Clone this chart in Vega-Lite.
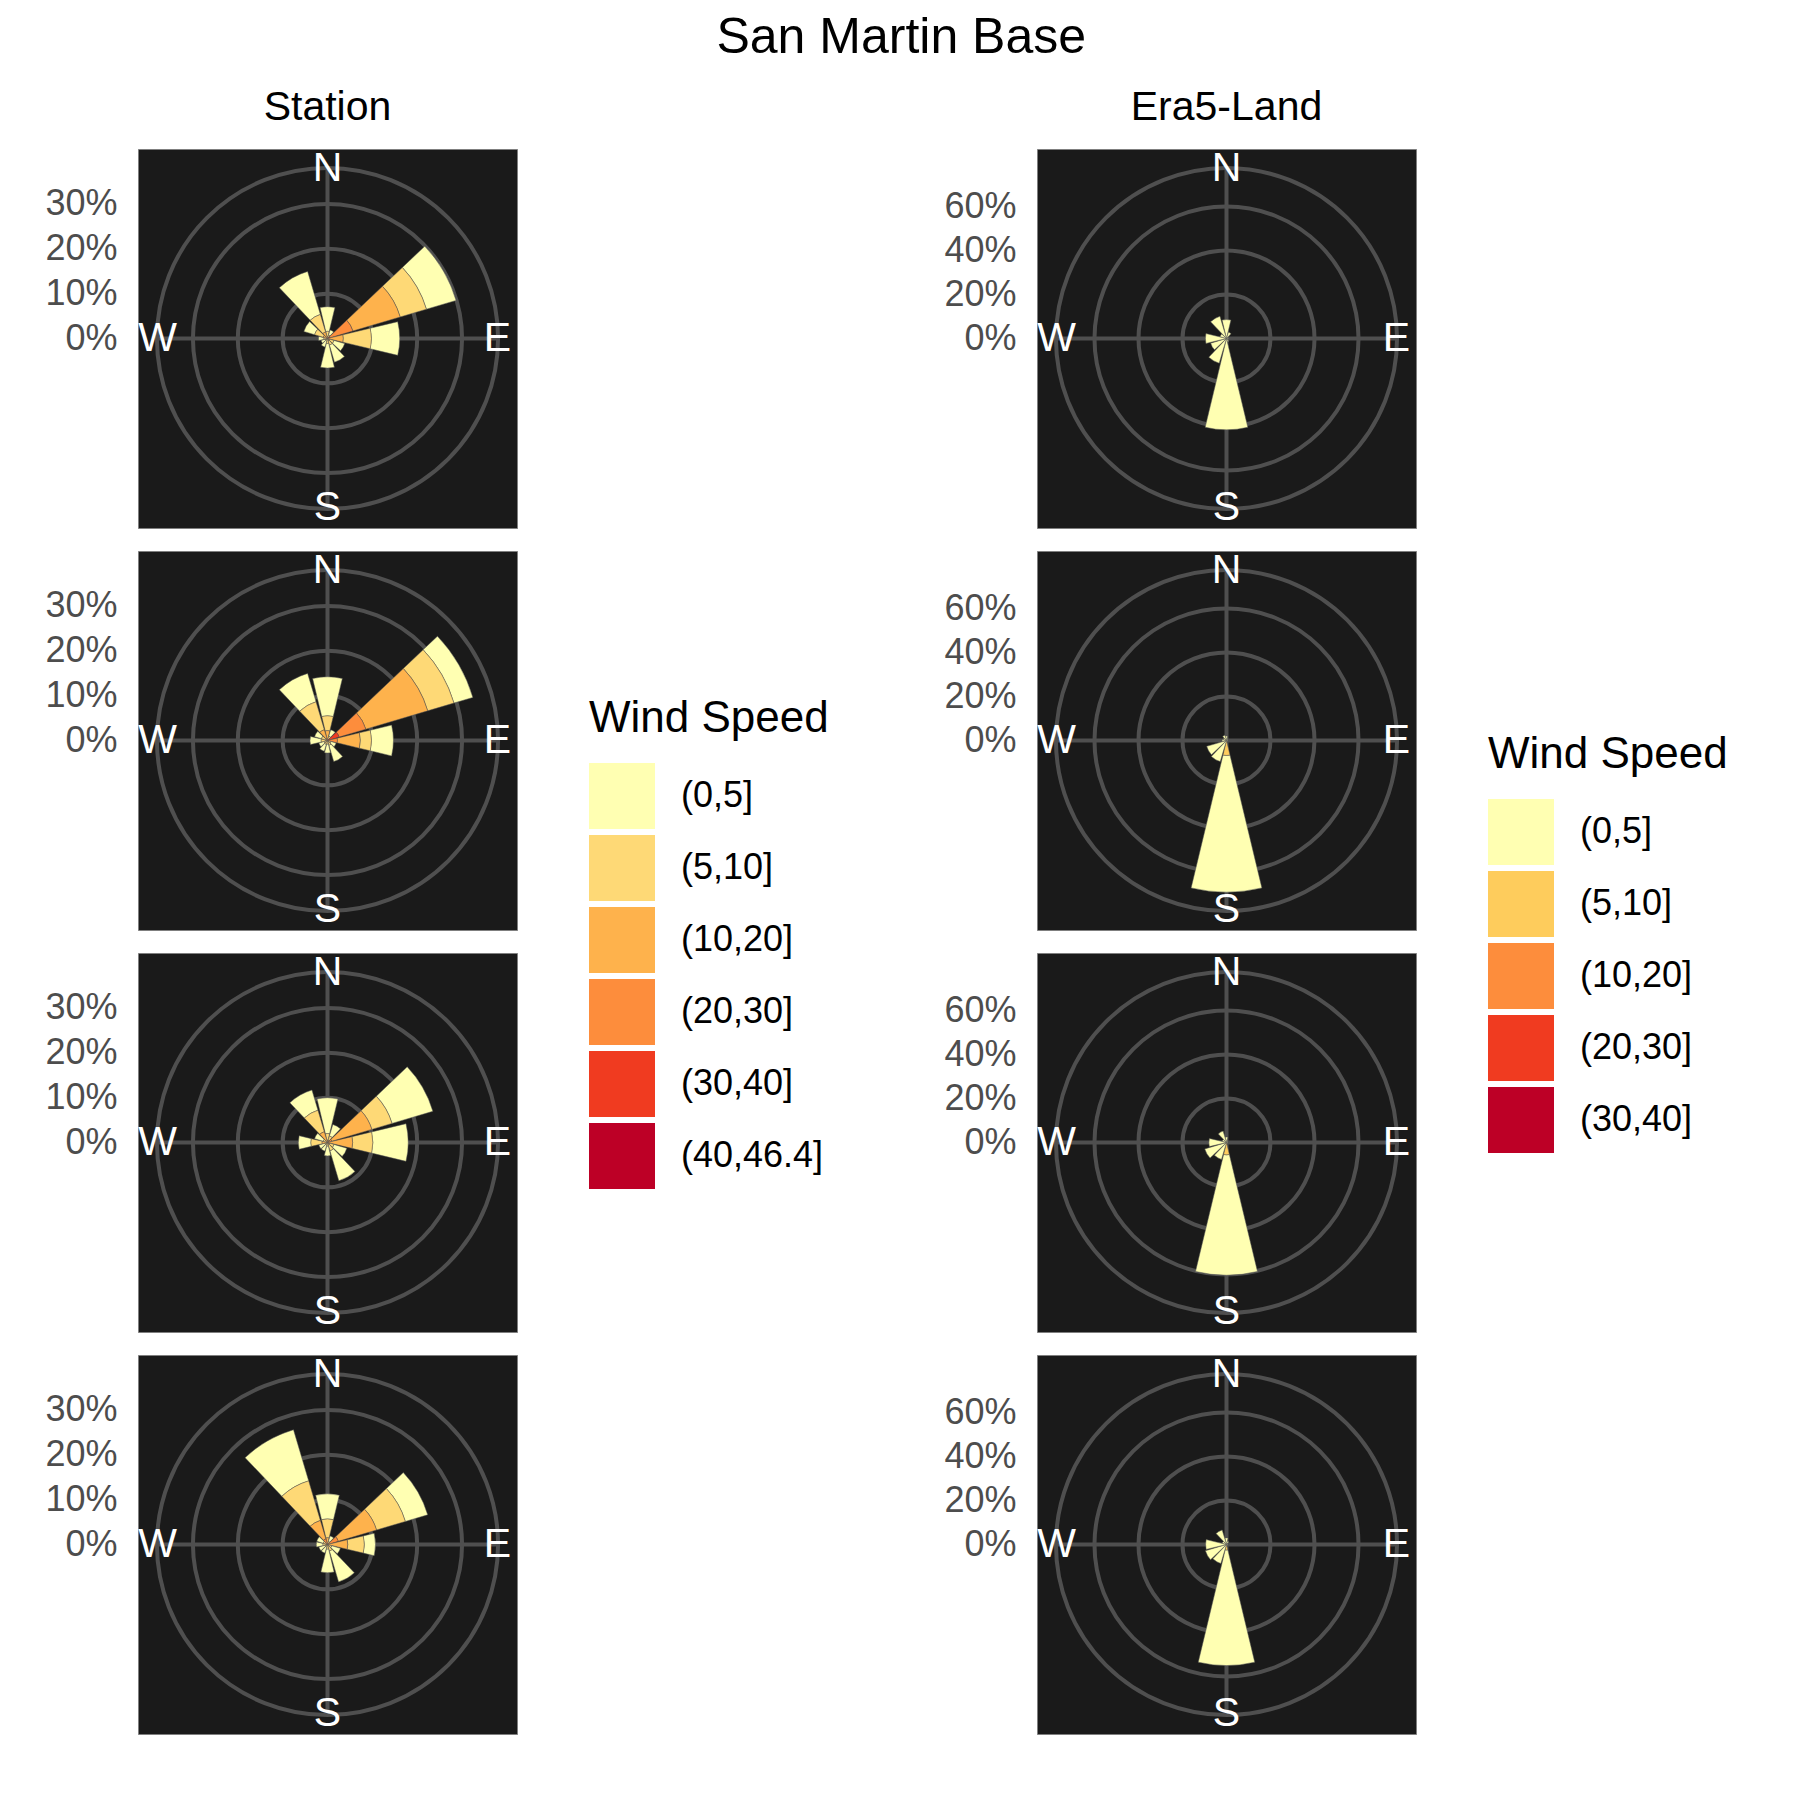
{
"$schema": "https://vega.github.io/schema/vega-lite/v6.json",
"background": "#ffffff",
"padding": {"left": 44, "top": 13, "right": 5, "bottom": 5},
"title": {"text": "San Martin Base", "fontSize": 50, "fontWeight": "normal", "font": "Liberation Sans", "color": "#000000", "anchor": "middle", "baseline": "bottom", "offset": -27, "dx": 15},
"config": {"view": {"fill": "#1a1a1a", "stroke": "#7f7f7f", "strokeWidth": 1}, "font": "Liberation Sans"},
"datasets": {
"ringsS": [{"r": 10}, {"r": 20}, {"r": 30}, {"r": 38.03}],
"ringsE": [{"r": 20}, {"r": 40}, {"r": 60}, {"r": 77.51}],
"compass": [{"lab": "N", "deg": 0}, {"lab": "E", "deg": 90}, {"lab": "S", "deg": 180}, {"lab": "W", "deg": 270}],
"w": [
{"p":"S1","d":0,"b":"(0,5]","v":5.5},{"p":"S1","d":0,"b":"(5,10]","v":1.2},{"p":"S1","d":0,"b":"(10,20]","v":0.4},
{"p":"S1","d":30,"b":"(0,5]","v":1.2},{"p":"S1","d":30,"b":"(5,10]","v":0.5},{"p":"S1","d":30,"b":"(10,20]","v":0.3},
{"p":"S1","d":60,"b":"(0,5]","v":6.9},{"p":"S1","d":60,"b":"(5,10]","v":6.1},{"p":"S1","d":60,"b":"(10,20]","v":11.0},{"p":"S1","d":60,"b":"(20,30]","v":5.3},{"p":"S1","d":60,"b":"(30,40]","v":0.6},
{"p":"S1","d":90,"b":"(0,5]","v":6.3},{"p":"S1","d":90,"b":"(5,10]","v":6.3},{"p":"S1","d":90,"b":"(10,20]","v":3.5},
{"p":"S1","d":120,"b":"(0,5]","v":2.5},{"p":"S1","d":120,"b":"(5,10]","v":1.0},{"p":"S1","d":120,"b":"(10,20]","v":0.5},
{"p":"S1","d":150,"b":"(0,5]","v":4.0},{"p":"S1","d":150,"b":"(5,10]","v":1.0},{"p":"S1","d":150,"b":"(10,20]","v":0.5},
{"p":"S1","d":180,"b":"(0,5]","v":5.5},{"p":"S1","d":180,"b":"(5,10]","v":1.1},
{"p":"S1","d":210,"b":"(0,5]","v":1.4},{"p":"S1","d":210,"b":"(5,10]","v":0.6},
{"p":"S1","d":240,"b":"(0,5]","v":1.0},{"p":"S1","d":240,"b":"(5,10]","v":0.5},
{"p":"S1","d":270,"b":"(0,5]","v":1.2},{"p":"S1","d":270,"b":"(5,10]","v":0.6},{"p":"S1","d":270,"b":"(10,20]","v":0.2},
{"p":"S1","d":300,"b":"(0,5]","v":2.5},{"p":"S1","d":300,"b":"(5,10]","v":2.0},{"p":"S1","d":300,"b":"(10,20]","v":1.0},
{"p":"S1","d":330,"b":"(0,5]","v":10.0},{"p":"S1","d":330,"b":"(5,10]","v":4.1},{"p":"S1","d":330,"b":"(10,20]","v":1.5},

{"p":"S2","d":0,"b":"(0,5]","v":8.7},{"p":"S2","d":0,"b":"(5,10]","v":3.3},{"p":"S2","d":0,"b":"(10,20]","v":2.2},
{"p":"S2","d":30,"b":"(0,5]","v":1.5},{"p":"S2","d":30,"b":"(5,10]","v":0.7},{"p":"S2","d":30,"b":"(10,20]","v":0.3},
{"p":"S2","d":60,"b":"(0,5]","v":4.4},{"p":"S2","d":60,"b":"(5,10]","v":6.1},{"p":"S2","d":60,"b":"(10,20]","v":14.4},{"p":"S2","d":60,"b":"(20,30]","v":6.2},{"p":"S2","d":60,"b":"(30,40]","v":2.7},
{"p":"S2","d":90,"b":"(0,5]","v":4.9},{"p":"S2","d":90,"b":"(5,10]","v":2.5},{"p":"S2","d":90,"b":"(10,20]","v":5.1},{"p":"S2","d":90,"b":"(20,30]","v":2.2},
{"p":"S2","d":120,"b":"(0,5]","v":1.2},{"p":"S2","d":120,"b":"(5,10]","v":0.5},{"p":"S2","d":120,"b":"(10,20]","v":0.3},
{"p":"S2","d":150,"b":"(0,5]","v":3.8},{"p":"S2","d":150,"b":"(5,10]","v":0.8},{"p":"S2","d":150,"b":"(10,20]","v":0.3},
{"p":"S2","d":180,"b":"(0,5]","v":2.0},{"p":"S2","d":180,"b":"(5,10]","v":0.8},
{"p":"S2","d":210,"b":"(0,5]","v":1.6},{"p":"S2","d":210,"b":"(5,10]","v":0.9},
{"p":"S2","d":240,"b":"(0,5]","v":1.2},{"p":"S2","d":240,"b":"(5,10]","v":0.8},
{"p":"S2","d":270,"b":"(0,5]","v":2.5},{"p":"S2","d":270,"b":"(5,10]","v":1.0},{"p":"S2","d":270,"b":"(10,20]","v":0.4},
{"p":"S2","d":300,"b":"(0,5]","v":1.6},{"p":"S2","d":300,"b":"(5,10]","v":1.0},{"p":"S2","d":300,"b":"(10,20]","v":0.4},
{"p":"S2","d":330,"b":"(0,5]","v":6.6},{"p":"S2","d":330,"b":"(5,10]","v":6.5},{"p":"S2","d":330,"b":"(10,20]","v":2.0},{"p":"S2","d":330,"b":"(20,30]","v":0.5},

{"p":"S3","d":0,"b":"(0,5]","v":8.0},{"p":"S3","d":0,"b":"(5,10]","v":1.5},{"p":"S3","d":0,"b":"(10,20]","v":0.5},
{"p":"S3","d":30,"b":"(0,5]","v":2.7},{"p":"S3","d":30,"b":"(5,10]","v":1.0},{"p":"S3","d":30,"b":"(10,20]","v":0.5},
{"p":"S3","d":60,"b":"(0,5]","v":9.5},{"p":"S3","d":60,"b":"(5,10]","v":4.7},{"p":"S3","d":60,"b":"(10,20]","v":9.3},{"p":"S3","d":60,"b":"(20,30]","v":1.0},
{"p":"S3","d":90,"b":"(0,5]","v":7.9},{"p":"S3","d":90,"b":"(5,10]","v":4.5},{"p":"S3","d":90,"b":"(10,20]","v":5.6},
{"p":"S3","d":120,"b":"(0,5]","v":3.0},{"p":"S3","d":120,"b":"(5,10]","v":1.0},{"p":"S3","d":120,"b":"(10,20]","v":0.5},
{"p":"S3","d":150,"b":"(0,5]","v":7.0},{"p":"S3","d":150,"b":"(5,10]","v":1.5},{"p":"S3","d":150,"b":"(10,20]","v":0.4},
{"p":"S3","d":180,"b":"(0,5]","v":2.2},{"p":"S3","d":180,"b":"(5,10]","v":0.8},
{"p":"S3","d":210,"b":"(0,5]","v":1.4},{"p":"S3","d":210,"b":"(5,10]","v":0.6},
{"p":"S3","d":240,"b":"(0,5]","v":1.4},{"p":"S3","d":240,"b":"(5,10]","v":0.6},
{"p":"S3","d":270,"b":"(0,5]","v":2.8},{"p":"S3","d":270,"b":"(5,10]","v":2.5},{"p":"S3","d":270,"b":"(10,20]","v":1.2},
{"p":"S3","d":300,"b":"(0,5]","v":2.0},{"p":"S3","d":300,"b":"(5,10]","v":0.8},{"p":"S3","d":300,"b":"(10,20]","v":0.2},
{"p":"S3","d":330,"b":"(0,5]","v":4.7},{"p":"S3","d":330,"b":"(5,10]","v":5.0},{"p":"S3","d":330,"b":"(10,20]","v":2.5},

{"p":"S4","d":0,"b":"(0,5]","v":5.6},{"p":"S4","d":0,"b":"(5,10]","v":4.2},{"p":"S4","d":0,"b":"(10,20]","v":1.5},
{"p":"S4","d":30,"b":"(0,5]","v":1.3},{"p":"S4","d":30,"b":"(5,10]","v":0.5},{"p":"S4","d":30,"b":"(10,20]","v":0.2},
{"p":"S4","d":60,"b":"(0,5]","v":5.2},{"p":"S4","d":60,"b":"(5,10]","v":6.7},{"p":"S4","d":60,"b":"(10,20]","v":8.9},{"p":"S4","d":60,"b":"(20,30]","v":2.5},
{"p":"S4","d":90,"b":"(0,5]","v":2.5},{"p":"S4","d":90,"b":"(5,10]","v":3.7},{"p":"S4","d":90,"b":"(10,20]","v":4.5},
{"p":"S4","d":120,"b":"(0,5]","v":2.0},{"p":"S4","d":120,"b":"(5,10]","v":0.7},{"p":"S4","d":120,"b":"(10,20]","v":0.3},
{"p":"S4","d":150,"b":"(0,5]","v":7.2},{"p":"S4","d":150,"b":"(5,10]","v":1.2},{"p":"S4","d":150,"b":"(10,20]","v":0.3},
{"p":"S4","d":180,"b":"(0,5]","v":5.3},{"p":"S4","d":180,"b":"(5,10]","v":1.0},
{"p":"S4","d":210,"b":"(0,5]","v":1.4},{"p":"S4","d":210,"b":"(5,10]","v":0.6},
{"p":"S4","d":240,"b":"(0,5]","v":1.4},{"p":"S4","d":240,"b":"(5,10]","v":0.6},
{"p":"S4","d":270,"b":"(0,5]","v":1.5},{"p":"S4","d":270,"b":"(5,10]","v":0.7},{"p":"S4","d":270,"b":"(10,20]","v":0.3},
{"p":"S4","d":300,"b":"(0,5]","v":1.5},{"p":"S4","d":300,"b":"(5,10]","v":0.7},{"p":"S4","d":300,"b":"(10,20]","v":0.3},
{"p":"S4","d":330,"b":"(0,5]","v":11.9},{"p":"S4","d":330,"b":"(5,10]","v":9.2},{"p":"S4","d":330,"b":"(10,20]","v":4.3},{"p":"S4","d":330,"b":"(20,30]","v":1.3},

{"p":"E1","d":0,"b":"(0,5]","v":8.6},{"p":"E1","d":30,"b":"(0,5]","v":3.0},{"p":"E1","d":60,"b":"(0,5]","v":0.8},{"p":"E1","d":90,"b":"(0,5]","v":0.8},
{"p":"E1","d":120,"b":"(0,5]","v":0.8},{"p":"E1","d":150,"b":"(0,5]","v":1.5},{"p":"E1","d":180,"b":"(0,5]","v":41.5},{"p":"E1","d":210,"b":"(0,5]","v":11.7},
{"p":"E1","d":240,"b":"(0,5]","v":7.5},{"p":"E1","d":270,"b":"(0,5]","v":9.6},{"p":"E1","d":300,"b":"(0,5]","v":3.0},{"p":"E1","d":330,"b":"(0,5]","v":10.5},

{"p":"E2","d":0,"b":"(0,5]","v":2.0},{"p":"E2","d":30,"b":"(0,5]","v":1.0},{"p":"E2","d":60,"b":"(0,5]","v":0.5},{"p":"E2","d":90,"b":"(0,5]","v":0.5},
{"p":"E2","d":120,"b":"(0,5]","v":0.5},{"p":"E2","d":150,"b":"(0,5]","v":0.5},{"p":"E2","d":180,"b":"(0,5]","v":62.1},{"p":"E2","d":180,"b":"(5,10]","v":6.8},
{"p":"E2","d":210,"b":"(0,5]","v":10.0},{"p":"E2","d":240,"b":"(0,5]","v":9.4},{"p":"E2","d":270,"b":"(0,5]","v":2.0},{"p":"E2","d":300,"b":"(0,5]","v":1.5},{"p":"E2","d":330,"b":"(0,5]","v":2.5},

{"p":"E3","d":0,"b":"(0,5]","v":2.5},{"p":"E3","d":30,"b":"(0,5]","v":1.0},{"p":"E3","d":60,"b":"(0,5]","v":0.5},{"p":"E3","d":90,"b":"(0,5]","v":0.5},
{"p":"E3","d":120,"b":"(0,5]","v":0.5},{"p":"E3","d":150,"b":"(0,5]","v":0.5},{"p":"E3","d":180,"b":"(0,5]","v":54.7},{"p":"E3","d":180,"b":"(5,10]","v":5.6},
{"p":"E3","d":210,"b":"(0,5]","v":8.0},{"p":"E3","d":240,"b":"(0,5]","v":10.3},{"p":"E3","d":270,"b":"(0,5]","v":8.0},{"p":"E3","d":300,"b":"(0,5]","v":2.0},{"p":"E3","d":330,"b":"(0,5]","v":5.4},

{"p":"E4","d":0,"b":"(0,5]","v":3.0},{"p":"E4","d":30,"b":"(0,5]","v":1.5},{"p":"E4","d":60,"b":"(0,5]","v":0.5},{"p":"E4","d":90,"b":"(0,5]","v":0.5},
{"p":"E4","d":120,"b":"(0,5]","v":0.5},{"p":"E4","d":150,"b":"(0,5]","v":0.5},{"p":"E4","d":180,"b":"(0,5]","v":52.5},{"p":"E4","d":180,"b":"(5,10]","v":2.5},
{"p":"E4","d":210,"b":"(0,5]","v":9.0},{"p":"E4","d":240,"b":"(0,5]","v":10.0},{"p":"E4","d":270,"b":"(0,5]","v":9.5},{"p":"E4","d":300,"b":"(0,5]","v":2.0},{"p":"E4","d":330,"b":"(0,5]","v":6.9}
]
},
"hconcat": [
{
"spacing": 20,
"resolve": {"scale": {"radius": "independent", "theta": "independent", "x": "independent", "y": "independent"}},
"vconcat": [
{"width": 379, "height": 379,
"title": {"text": "Station", "fontSize": 41, "fontWeight": "normal", "font": "Liberation Sans", "color": "#000000", "anchor": "middle", "frame": "group", "baseline": "bottom", "offset": -22},
"layer": [
{"data": {"name": "ringsS"}, "mark": {"type": "arc", "theta": 0, "theta2": 6.283185307179586, "filled": false, "stroke": "#4f4f4f", "strokeWidth": 4},
 "encoding": {"radius": {"field": "r", "type": "quantitative", "scale": {"type": "linear", "domain": [0, 33.8], "range": [0, 151.6], "nice": false, "zero": true}, "stack": null}}},
{"data": {"values": [{}]}, "mark": {"type": "rule", "color": "#4f4f4f", "strokeWidth": 4},
 "encoding": {"x": {"datum": 0, "type": "quantitative", "scale": {"domain": [-42.25, 42.25], "nice": false, "zero": false}, "axis": null},
  "y": {"datum": -38.03, "type": "quantitative", "scale": {"domain": [-42.25, 42.25], "nice": false, "zero": false}, "axis": {"values": [0, 10, 20, 30], "labelExpr": "datum.value + '%'", "grid": false, "domain": false, "ticks": false, "labelPadding": 21, "labelFontSize": 36, "labelFont": "Liberation Sans", "labelColor": "#4d4d4d", "title": null, "labelOverlap": false, "labelFlush": false}},
  "y2": {"datum": 38.03}}},
{"data": {"values": [{}]}, "mark": {"type": "rule", "color": "#4f4f4f", "strokeWidth": 4},
 "encoding": {"x": {"datum": -38.03, "type": "quantitative", "scale": {"domain": [-42.25, 42.25], "nice": false, "zero": false}, "axis": null}, "x2": {"datum": 38.03},
  "y": {"datum": 0, "type": "quantitative", "scale": {"domain": [-42.25, 42.25], "nice": false, "zero": false}, "axis": {"values": [0, 10, 20, 30], "labelExpr": "datum.value + '%'", "grid": false, "domain": false, "ticks": false, "labelPadding": 21, "labelFontSize": 36, "labelFont": "Liberation Sans", "labelColor": "#4d4d4d", "title": null, "labelOverlap": false, "labelFlush": false}}}},
{"data": {"name": "w"},
 "transform": [{"filter": "datum.p == 'S1'"}, {"calculate": "indexof(['(40,46.4]','(30,40]','(20,30]','(10,20]','(5,10]','(0,5]'], datum.b)", "as": "o"}, {"stack": "v", "groupby": ["d"], "sort": [{"field": "o", "order": "ascending"}], "as": ["r0", "r1"]}, {"calculate": "datum.d - 13.5", "as": "t0"}, {"calculate": "datum.d + 13.5", "as": "t1"}],
 "mark": {"type": "arc", "stroke": "#555555", "strokeWidth": 0.5},
 "encoding": {"theta": {"field": "t0", "type": "quantitative", "scale": {"type": "linear", "domain": [0, 360], "range": [0, 6.283185307179586], "nice": false, "zero": false}, "stack": null}, "theta2": {"field": "t1"},
  "radius": {"field": "r1", "type": "quantitative", "scale": {"type": "linear", "domain": [0, 33.8], "range": [0, 151.6], "nice": false, "zero": true}, "stack": null}, "radius2": {"field": "r0"},
  "color": {"field": "b", "type": "nominal", "scale": {"domain": ["(0,5]", "(5,10]", "(10,20]", "(20,30]", "(30,40]", "(40,46.4]"], "range": ["#ffffb2", "#fed976", "#feb24c", "#fd8d3c", "#f03b20", "#bd0026"]},
   "legend": {"orient": "none", "legendX": 451, "legendY": 548, "title": "Wind Speed", "titleFontSize": 44, "titleFontWeight": "normal", "titleFont": "Liberation Sans", "titleColor": "#000000", "titleLimit": 600, "labelFontSize": 36, "labelFont": "Liberation Sans", "labelColor": "#000000", "symbolType": "square", "symbolSize": 4356, "symbolStrokeWidth": 0, "symbolOpacity": 1, "rowPadding": 6, "labelOffset": 26, "titlePadding": 22, "labelLimit": 400, "padding": 0}}}},
{"data": {"name": "compass"}, "mark": {"type": "text", "color": "#ffffff", "fontSize": 41, "font": "Liberation Sans", "align": "center", "baseline": "middle"},
 "encoding": {"theta": {"field": "deg", "type": "quantitative", "scale": {"type": "linear", "domain": [0, 360], "range": [0, 6.283185307179586], "nice": false, "zero": false}, "stack": null},
  "radius": {"datum": 37.9, "type": "quantitative", "scale": {"type": "linear", "domain": [0, 33.8], "range": [0, 151.6], "nice": false, "zero": true}}, "text": {"field": "lab", "type": "nominal"}}}
]},
{"width": 379, "height": 379,
"layer": [
{"data": {"name": "ringsS"}, "mark": {"type": "arc", "theta": 0, "theta2": 6.283185307179586, "filled": false, "stroke": "#4f4f4f", "strokeWidth": 4},
 "encoding": {"radius": {"field": "r", "type": "quantitative", "scale": {"type": "linear", "domain": [0, 33.8], "range": [0, 151.6], "nice": false, "zero": true}, "stack": null}}},
{"data": {"values": [{}]}, "mark": {"type": "rule", "color": "#4f4f4f", "strokeWidth": 4},
 "encoding": {"x": {"datum": 0, "type": "quantitative", "scale": {"domain": [-42.25, 42.25], "nice": false, "zero": false}, "axis": null},
  "y": {"datum": -38.03, "type": "quantitative", "scale": {"domain": [-42.25, 42.25], "nice": false, "zero": false}, "axis": {"values": [0, 10, 20, 30], "labelExpr": "datum.value + '%'", "grid": false, "domain": false, "ticks": false, "labelPadding": 21, "labelFontSize": 36, "labelFont": "Liberation Sans", "labelColor": "#4d4d4d", "title": null, "labelOverlap": false, "labelFlush": false}},
  "y2": {"datum": 38.03}}},
{"data": {"values": [{}]}, "mark": {"type": "rule", "color": "#4f4f4f", "strokeWidth": 4},
 "encoding": {"x": {"datum": -38.03, "type": "quantitative", "scale": {"domain": [-42.25, 42.25], "nice": false, "zero": false}, "axis": null}, "x2": {"datum": 38.03},
  "y": {"datum": 0, "type": "quantitative", "scale": {"domain": [-42.25, 42.25], "nice": false, "zero": false}, "axis": {"values": [0, 10, 20, 30], "labelExpr": "datum.value + '%'", "grid": false, "domain": false, "ticks": false, "labelPadding": 21, "labelFontSize": 36, "labelFont": "Liberation Sans", "labelColor": "#4d4d4d", "title": null, "labelOverlap": false, "labelFlush": false}}}},
{"data": {"name": "w"},
 "transform": [{"filter": "datum.p == 'S2'"}, {"calculate": "indexof(['(40,46.4]','(30,40]','(20,30]','(10,20]','(5,10]','(0,5]'], datum.b)", "as": "o"}, {"stack": "v", "groupby": ["d"], "sort": [{"field": "o", "order": "ascending"}], "as": ["r0", "r1"]}, {"calculate": "datum.d - 13.5", "as": "t0"}, {"calculate": "datum.d + 13.5", "as": "t1"}],
 "mark": {"type": "arc", "stroke": "#555555", "strokeWidth": 0.5},
 "encoding": {"theta": {"field": "t0", "type": "quantitative", "scale": {"type": "linear", "domain": [0, 360], "range": [0, 6.283185307179586], "nice": false, "zero": false}, "stack": null}, "theta2": {"field": "t1"},
  "radius": {"field": "r1", "type": "quantitative", "scale": {"type": "linear", "domain": [0, 33.8], "range": [0, 151.6], "nice": false, "zero": true}, "stack": null}, "radius2": {"field": "r0"},
  "color": {"field": "b", "type": "nominal", "scale": {"domain": ["(0,5]", "(5,10]", "(10,20]", "(20,30]", "(30,40]", "(40,46.4]"], "range": ["#ffffb2", "#fed976", "#feb24c", "#fd8d3c", "#f03b20", "#bd0026"]},
   "legend": {"orient": "none", "legendX": 451, "legendY": 548, "title": "Wind Speed", "titleFontSize": 44, "titleFontWeight": "normal", "titleFont": "Liberation Sans", "titleColor": "#000000", "titleLimit": 600, "labelFontSize": 36, "labelFont": "Liberation Sans", "labelColor": "#000000", "symbolType": "square", "symbolSize": 4356, "symbolStrokeWidth": 0, "symbolOpacity": 1, "rowPadding": 6, "labelOffset": 26, "titlePadding": 22, "labelLimit": 400, "padding": 0}}}},
{"data": {"name": "compass"}, "mark": {"type": "text", "color": "#ffffff", "fontSize": 41, "font": "Liberation Sans", "align": "center", "baseline": "middle"},
 "encoding": {"theta": {"field": "deg", "type": "quantitative", "scale": {"type": "linear", "domain": [0, 360], "range": [0, 6.283185307179586], "nice": false, "zero": false}, "stack": null},
  "radius": {"datum": 37.9, "type": "quantitative", "scale": {"type": "linear", "domain": [0, 33.8], "range": [0, 151.6], "nice": false, "zero": true}}, "text": {"field": "lab", "type": "nominal"}}}
]},
{"width": 379, "height": 379,
"layer": [
{"data": {"name": "ringsS"}, "mark": {"type": "arc", "theta": 0, "theta2": 6.283185307179586, "filled": false, "stroke": "#4f4f4f", "strokeWidth": 4},
 "encoding": {"radius": {"field": "r", "type": "quantitative", "scale": {"type": "linear", "domain": [0, 33.8], "range": [0, 151.6], "nice": false, "zero": true}, "stack": null}}},
{"data": {"values": [{}]}, "mark": {"type": "rule", "color": "#4f4f4f", "strokeWidth": 4},
 "encoding": {"x": {"datum": 0, "type": "quantitative", "scale": {"domain": [-42.25, 42.25], "nice": false, "zero": false}, "axis": null},
  "y": {"datum": -38.03, "type": "quantitative", "scale": {"domain": [-42.25, 42.25], "nice": false, "zero": false}, "axis": {"values": [0, 10, 20, 30], "labelExpr": "datum.value + '%'", "grid": false, "domain": false, "ticks": false, "labelPadding": 21, "labelFontSize": 36, "labelFont": "Liberation Sans", "labelColor": "#4d4d4d", "title": null, "labelOverlap": false, "labelFlush": false}},
  "y2": {"datum": 38.03}}},
{"data": {"values": [{}]}, "mark": {"type": "rule", "color": "#4f4f4f", "strokeWidth": 4},
 "encoding": {"x": {"datum": -38.03, "type": "quantitative", "scale": {"domain": [-42.25, 42.25], "nice": false, "zero": false}, "axis": null}, "x2": {"datum": 38.03},
  "y": {"datum": 0, "type": "quantitative", "scale": {"domain": [-42.25, 42.25], "nice": false, "zero": false}, "axis": {"values": [0, 10, 20, 30], "labelExpr": "datum.value + '%'", "grid": false, "domain": false, "ticks": false, "labelPadding": 21, "labelFontSize": 36, "labelFont": "Liberation Sans", "labelColor": "#4d4d4d", "title": null, "labelOverlap": false, "labelFlush": false}}}},
{"data": {"name": "w"},
 "transform": [{"filter": "datum.p == 'S3'"}, {"calculate": "indexof(['(40,46.4]','(30,40]','(20,30]','(10,20]','(5,10]','(0,5]'], datum.b)", "as": "o"}, {"stack": "v", "groupby": ["d"], "sort": [{"field": "o", "order": "ascending"}], "as": ["r0", "r1"]}, {"calculate": "datum.d - 13.5", "as": "t0"}, {"calculate": "datum.d + 13.5", "as": "t1"}],
 "mark": {"type": "arc", "stroke": "#555555", "strokeWidth": 0.5},
 "encoding": {"theta": {"field": "t0", "type": "quantitative", "scale": {"type": "linear", "domain": [0, 360], "range": [0, 6.283185307179586], "nice": false, "zero": false}, "stack": null}, "theta2": {"field": "t1"},
  "radius": {"field": "r1", "type": "quantitative", "scale": {"type": "linear", "domain": [0, 33.8], "range": [0, 151.6], "nice": false, "zero": true}, "stack": null}, "radius2": {"field": "r0"},
  "color": {"field": "b", "type": "nominal", "scale": {"domain": ["(0,5]", "(5,10]", "(10,20]", "(20,30]", "(30,40]", "(40,46.4]"], "range": ["#ffffb2", "#fed976", "#feb24c", "#fd8d3c", "#f03b20", "#bd0026"]},
   "legend": {"orient": "none", "legendX": 451, "legendY": 548, "title": "Wind Speed", "titleFontSize": 44, "titleFontWeight": "normal", "titleFont": "Liberation Sans", "titleColor": "#000000", "titleLimit": 600, "labelFontSize": 36, "labelFont": "Liberation Sans", "labelColor": "#000000", "symbolType": "square", "symbolSize": 4356, "symbolStrokeWidth": 0, "symbolOpacity": 1, "rowPadding": 6, "labelOffset": 26, "titlePadding": 22, "labelLimit": 400, "padding": 0}}}},
{"data": {"name": "compass"}, "mark": {"type": "text", "color": "#ffffff", "fontSize": 41, "font": "Liberation Sans", "align": "center", "baseline": "middle"},
 "encoding": {"theta": {"field": "deg", "type": "quantitative", "scale": {"type": "linear", "domain": [0, 360], "range": [0, 6.283185307179586], "nice": false, "zero": false}, "stack": null},
  "radius": {"datum": 37.9, "type": "quantitative", "scale": {"type": "linear", "domain": [0, 33.8], "range": [0, 151.6], "nice": false, "zero": true}}, "text": {"field": "lab", "type": "nominal"}}}
]},
{"width": 379, "height": 379,
"layer": [
{"data": {"name": "ringsS"}, "mark": {"type": "arc", "theta": 0, "theta2": 6.283185307179586, "filled": false, "stroke": "#4f4f4f", "strokeWidth": 4},
 "encoding": {"radius": {"field": "r", "type": "quantitative", "scale": {"type": "linear", "domain": [0, 33.8], "range": [0, 151.6], "nice": false, "zero": true}, "stack": null}}},
{"data": {"values": [{}]}, "mark": {"type": "rule", "color": "#4f4f4f", "strokeWidth": 4},
 "encoding": {"x": {"datum": 0, "type": "quantitative", "scale": {"domain": [-42.25, 42.25], "nice": false, "zero": false}, "axis": null},
  "y": {"datum": -38.03, "type": "quantitative", "scale": {"domain": [-42.25, 42.25], "nice": false, "zero": false}, "axis": {"values": [0, 10, 20, 30], "labelExpr": "datum.value + '%'", "grid": false, "domain": false, "ticks": false, "labelPadding": 21, "labelFontSize": 36, "labelFont": "Liberation Sans", "labelColor": "#4d4d4d", "title": null, "labelOverlap": false, "labelFlush": false}},
  "y2": {"datum": 38.03}}},
{"data": {"values": [{}]}, "mark": {"type": "rule", "color": "#4f4f4f", "strokeWidth": 4},
 "encoding": {"x": {"datum": -38.03, "type": "quantitative", "scale": {"domain": [-42.25, 42.25], "nice": false, "zero": false}, "axis": null}, "x2": {"datum": 38.03},
  "y": {"datum": 0, "type": "quantitative", "scale": {"domain": [-42.25, 42.25], "nice": false, "zero": false}, "axis": {"values": [0, 10, 20, 30], "labelExpr": "datum.value + '%'", "grid": false, "domain": false, "ticks": false, "labelPadding": 21, "labelFontSize": 36, "labelFont": "Liberation Sans", "labelColor": "#4d4d4d", "title": null, "labelOverlap": false, "labelFlush": false}}}},
{"data": {"name": "w"},
 "transform": [{"filter": "datum.p == 'S4'"}, {"calculate": "indexof(['(40,46.4]','(30,40]','(20,30]','(10,20]','(5,10]','(0,5]'], datum.b)", "as": "o"}, {"stack": "v", "groupby": ["d"], "sort": [{"field": "o", "order": "ascending"}], "as": ["r0", "r1"]}, {"calculate": "datum.d - 13.5", "as": "t0"}, {"calculate": "datum.d + 13.5", "as": "t1"}],
 "mark": {"type": "arc", "stroke": "#555555", "strokeWidth": 0.5},
 "encoding": {"theta": {"field": "t0", "type": "quantitative", "scale": {"type": "linear", "domain": [0, 360], "range": [0, 6.283185307179586], "nice": false, "zero": false}, "stack": null}, "theta2": {"field": "t1"},
  "radius": {"field": "r1", "type": "quantitative", "scale": {"type": "linear", "domain": [0, 33.8], "range": [0, 151.6], "nice": false, "zero": true}, "stack": null}, "radius2": {"field": "r0"},
  "color": {"field": "b", "type": "nominal", "scale": {"domain": ["(0,5]", "(5,10]", "(10,20]", "(20,30]", "(30,40]", "(40,46.4]"], "range": ["#ffffb2", "#fed976", "#feb24c", "#fd8d3c", "#f03b20", "#bd0026"]},
   "legend": {"orient": "none", "legendX": 451, "legendY": 548, "title": "Wind Speed", "titleFontSize": 44, "titleFontWeight": "normal", "titleFont": "Liberation Sans", "titleColor": "#000000", "titleLimit": 600, "labelFontSize": 36, "labelFont": "Liberation Sans", "labelColor": "#000000", "symbolType": "square", "symbolSize": 4356, "symbolStrokeWidth": 0, "symbolOpacity": 1, "rowPadding": 6, "labelOffset": 26, "titlePadding": 22, "labelLimit": 400, "padding": 0}}}},
{"data": {"name": "compass"}, "mark": {"type": "text", "color": "#ffffff", "fontSize": 41, "font": "Liberation Sans", "align": "center", "baseline": "middle"},
 "encoding": {"theta": {"field": "deg", "type": "quantitative", "scale": {"type": "linear", "domain": [0, 360], "range": [0, 6.283185307179586], "nice": false, "zero": false}, "stack": null},
  "radius": {"datum": 37.9, "type": "quantitative", "scale": {"type": "linear", "domain": [0, 33.8], "range": [0, 151.6], "nice": false, "zero": true}}, "text": {"field": "lab", "type": "nominal"}}}
]}
]
},
{
"spacing": 20,
"resolve": {"scale": {"radius": "independent", "theta": "independent", "x": "independent", "y": "independent"}},
"vconcat": [
{"width": 379, "height": 379,
"title": {"text": "Era5-Land", "fontSize": 41, "fontWeight": "normal", "font": "Liberation Sans", "color": "#000000", "anchor": "middle", "frame": "group", "baseline": "bottom", "offset": -22},
"layer": [
{"data": {"name": "ringsE"}, "mark": {"type": "arc", "theta": 0, "theta2": 6.283185307179586, "filled": false, "stroke": "#4f4f4f", "strokeWidth": 4},
 "encoding": {"radius": {"field": "r", "type": "quantitative", "scale": {"type": "linear", "domain": [0, 68.9], "range": [0, 151.6], "nice": false, "zero": true}, "stack": null}}},
{"data": {"values": [{}]}, "mark": {"type": "rule", "color": "#4f4f4f", "strokeWidth": 4},
 "encoding": {"x": {"datum": 0, "type": "quantitative", "scale": {"domain": [-86.13, 86.13], "nice": false, "zero": false}, "axis": null},
  "y": {"datum": -77.51, "type": "quantitative", "scale": {"domain": [-86.13, 86.13], "nice": false, "zero": false}, "axis": {"values": [0, 20, 40, 60], "labelExpr": "datum.value + '%'", "grid": false, "domain": false, "ticks": false, "labelPadding": 21, "labelFontSize": 36, "labelFont": "Liberation Sans", "labelColor": "#4d4d4d", "title": null, "labelOverlap": false, "labelFlush": false}},
  "y2": {"datum": 77.51}}},
{"data": {"values": [{}]}, "mark": {"type": "rule", "color": "#4f4f4f", "strokeWidth": 4},
 "encoding": {"x": {"datum": -77.51, "type": "quantitative", "scale": {"domain": [-86.13, 86.13], "nice": false, "zero": false}, "axis": null}, "x2": {"datum": 77.51},
  "y": {"datum": 0, "type": "quantitative", "scale": {"domain": [-86.13, 86.13], "nice": false, "zero": false}, "axis": {"values": [0, 20, 40, 60], "labelExpr": "datum.value + '%'", "grid": false, "domain": false, "ticks": false, "labelPadding": 21, "labelFontSize": 36, "labelFont": "Liberation Sans", "labelColor": "#4d4d4d", "title": null, "labelOverlap": false, "labelFlush": false}}}},
{"data": {"name": "w"},
 "transform": [{"filter": "datum.p == 'E1'"}, {"calculate": "indexof(['(40,46.4]','(30,40]','(20,30]','(10,20]','(5,10]','(0,5]'], datum.b)", "as": "o"}, {"stack": "v", "groupby": ["d"], "sort": [{"field": "o", "order": "ascending"}], "as": ["r0", "r1"]}, {"calculate": "datum.d - 13.5", "as": "t0"}, {"calculate": "datum.d + 13.5", "as": "t1"}],
 "mark": {"type": "arc", "stroke": "#555555", "strokeWidth": 0.5},
 "encoding": {"theta": {"field": "t0", "type": "quantitative", "scale": {"type": "linear", "domain": [0, 360], "range": [0, 6.283185307179586], "nice": false, "zero": false}, "stack": null}, "theta2": {"field": "t1"},
  "radius": {"field": "r1", "type": "quantitative", "scale": {"type": "linear", "domain": [0, 68.9], "range": [0, 151.6], "nice": false, "zero": true}, "stack": null}, "radius2": {"field": "r0"},
  "color": {"field": "b", "type": "nominal", "scale": {"domain": ["(0,5]", "(5,10]", "(10,20]", "(20,30]", "(30,40]"], "range": ["#ffffb2", "#fecc5c", "#fd8d3c", "#f03b20", "#bd0026"]},
   "legend": {"orient": "none", "legendX": 451, "legendY": 584, "title": "Wind Speed", "titleFontSize": 44, "titleFontWeight": "normal", "titleFont": "Liberation Sans", "titleColor": "#000000", "titleLimit": 600, "labelFontSize": 36, "labelFont": "Liberation Sans", "labelColor": "#000000", "symbolType": "square", "symbolSize": 4356, "symbolStrokeWidth": 0, "symbolOpacity": 1, "rowPadding": 6, "labelOffset": 26, "titlePadding": 22, "labelLimit": 400, "padding": 0}}}},
{"data": {"name": "compass"}, "mark": {"type": "text", "color": "#ffffff", "fontSize": 41, "font": "Liberation Sans", "align": "center", "baseline": "middle"},
 "encoding": {"theta": {"field": "deg", "type": "quantitative", "scale": {"type": "linear", "domain": [0, 360], "range": [0, 6.283185307179586], "nice": false, "zero": false}, "stack": null},
  "radius": {"datum": 77.26, "type": "quantitative", "scale": {"type": "linear", "domain": [0, 68.9], "range": [0, 151.6], "nice": false, "zero": true}}, "text": {"field": "lab", "type": "nominal"}}}
]},
{"width": 379, "height": 379,
"layer": [
{"data": {"name": "ringsE"}, "mark": {"type": "arc", "theta": 0, "theta2": 6.283185307179586, "filled": false, "stroke": "#4f4f4f", "strokeWidth": 4},
 "encoding": {"radius": {"field": "r", "type": "quantitative", "scale": {"type": "linear", "domain": [0, 68.9], "range": [0, 151.6], "nice": false, "zero": true}, "stack": null}}},
{"data": {"values": [{}]}, "mark": {"type": "rule", "color": "#4f4f4f", "strokeWidth": 4},
 "encoding": {"x": {"datum": 0, "type": "quantitative", "scale": {"domain": [-86.13, 86.13], "nice": false, "zero": false}, "axis": null},
  "y": {"datum": -77.51, "type": "quantitative", "scale": {"domain": [-86.13, 86.13], "nice": false, "zero": false}, "axis": {"values": [0, 20, 40, 60], "labelExpr": "datum.value + '%'", "grid": false, "domain": false, "ticks": false, "labelPadding": 21, "labelFontSize": 36, "labelFont": "Liberation Sans", "labelColor": "#4d4d4d", "title": null, "labelOverlap": false, "labelFlush": false}},
  "y2": {"datum": 77.51}}},
{"data": {"values": [{}]}, "mark": {"type": "rule", "color": "#4f4f4f", "strokeWidth": 4},
 "encoding": {"x": {"datum": -77.51, "type": "quantitative", "scale": {"domain": [-86.13, 86.13], "nice": false, "zero": false}, "axis": null}, "x2": {"datum": 77.51},
  "y": {"datum": 0, "type": "quantitative", "scale": {"domain": [-86.13, 86.13], "nice": false, "zero": false}, "axis": {"values": [0, 20, 40, 60], "labelExpr": "datum.value + '%'", "grid": false, "domain": false, "ticks": false, "labelPadding": 21, "labelFontSize": 36, "labelFont": "Liberation Sans", "labelColor": "#4d4d4d", "title": null, "labelOverlap": false, "labelFlush": false}}}},
{"data": {"name": "w"},
 "transform": [{"filter": "datum.p == 'E2'"}, {"calculate": "indexof(['(40,46.4]','(30,40]','(20,30]','(10,20]','(5,10]','(0,5]'], datum.b)", "as": "o"}, {"stack": "v", "groupby": ["d"], "sort": [{"field": "o", "order": "ascending"}], "as": ["r0", "r1"]}, {"calculate": "datum.d - 13.5", "as": "t0"}, {"calculate": "datum.d + 13.5", "as": "t1"}],
 "mark": {"type": "arc", "stroke": "#555555", "strokeWidth": 0.5},
 "encoding": {"theta": {"field": "t0", "type": "quantitative", "scale": {"type": "linear", "domain": [0, 360], "range": [0, 6.283185307179586], "nice": false, "zero": false}, "stack": null}, "theta2": {"field": "t1"},
  "radius": {"field": "r1", "type": "quantitative", "scale": {"type": "linear", "domain": [0, 68.9], "range": [0, 151.6], "nice": false, "zero": true}, "stack": null}, "radius2": {"field": "r0"},
  "color": {"field": "b", "type": "nominal", "scale": {"domain": ["(0,5]", "(5,10]", "(10,20]", "(20,30]", "(30,40]"], "range": ["#ffffb2", "#fecc5c", "#fd8d3c", "#f03b20", "#bd0026"]},
   "legend": {"orient": "none", "legendX": 451, "legendY": 584, "title": "Wind Speed", "titleFontSize": 44, "titleFontWeight": "normal", "titleFont": "Liberation Sans", "titleColor": "#000000", "titleLimit": 600, "labelFontSize": 36, "labelFont": "Liberation Sans", "labelColor": "#000000", "symbolType": "square", "symbolSize": 4356, "symbolStrokeWidth": 0, "symbolOpacity": 1, "rowPadding": 6, "labelOffset": 26, "titlePadding": 22, "labelLimit": 400, "padding": 0}}}},
{"data": {"name": "compass"}, "mark": {"type": "text", "color": "#ffffff", "fontSize": 41, "font": "Liberation Sans", "align": "center", "baseline": "middle"},
 "encoding": {"theta": {"field": "deg", "type": "quantitative", "scale": {"type": "linear", "domain": [0, 360], "range": [0, 6.283185307179586], "nice": false, "zero": false}, "stack": null},
  "radius": {"datum": 77.26, "type": "quantitative", "scale": {"type": "linear", "domain": [0, 68.9], "range": [0, 151.6], "nice": false, "zero": true}}, "text": {"field": "lab", "type": "nominal"}}}
]},
{"width": 379, "height": 379,
"layer": [
{"data": {"name": "ringsE"}, "mark": {"type": "arc", "theta": 0, "theta2": 6.283185307179586, "filled": false, "stroke": "#4f4f4f", "strokeWidth": 4},
 "encoding": {"radius": {"field": "r", "type": "quantitative", "scale": {"type": "linear", "domain": [0, 68.9], "range": [0, 151.6], "nice": false, "zero": true}, "stack": null}}},
{"data": {"values": [{}]}, "mark": {"type": "rule", "color": "#4f4f4f", "strokeWidth": 4},
 "encoding": {"x": {"datum": 0, "type": "quantitative", "scale": {"domain": [-86.13, 86.13], "nice": false, "zero": false}, "axis": null},
  "y": {"datum": -77.51, "type": "quantitative", "scale": {"domain": [-86.13, 86.13], "nice": false, "zero": false}, "axis": {"values": [0, 20, 40, 60], "labelExpr": "datum.value + '%'", "grid": false, "domain": false, "ticks": false, "labelPadding": 21, "labelFontSize": 36, "labelFont": "Liberation Sans", "labelColor": "#4d4d4d", "title": null, "labelOverlap": false, "labelFlush": false}},
  "y2": {"datum": 77.51}}},
{"data": {"values": [{}]}, "mark": {"type": "rule", "color": "#4f4f4f", "strokeWidth": 4},
 "encoding": {"x": {"datum": -77.51, "type": "quantitative", "scale": {"domain": [-86.13, 86.13], "nice": false, "zero": false}, "axis": null}, "x2": {"datum": 77.51},
  "y": {"datum": 0, "type": "quantitative", "scale": {"domain": [-86.13, 86.13], "nice": false, "zero": false}, "axis": {"values": [0, 20, 40, 60], "labelExpr": "datum.value + '%'", "grid": false, "domain": false, "ticks": false, "labelPadding": 21, "labelFontSize": 36, "labelFont": "Liberation Sans", "labelColor": "#4d4d4d", "title": null, "labelOverlap": false, "labelFlush": false}}}},
{"data": {"name": "w"},
 "transform": [{"filter": "datum.p == 'E3'"}, {"calculate": "indexof(['(40,46.4]','(30,40]','(20,30]','(10,20]','(5,10]','(0,5]'], datum.b)", "as": "o"}, {"stack": "v", "groupby": ["d"], "sort": [{"field": "o", "order": "ascending"}], "as": ["r0", "r1"]}, {"calculate": "datum.d - 13.5", "as": "t0"}, {"calculate": "datum.d + 13.5", "as": "t1"}],
 "mark": {"type": "arc", "stroke": "#555555", "strokeWidth": 0.5},
 "encoding": {"theta": {"field": "t0", "type": "quantitative", "scale": {"type": "linear", "domain": [0, 360], "range": [0, 6.283185307179586], "nice": false, "zero": false}, "stack": null}, "theta2": {"field": "t1"},
  "radius": {"field": "r1", "type": "quantitative", "scale": {"type": "linear", "domain": [0, 68.9], "range": [0, 151.6], "nice": false, "zero": true}, "stack": null}, "radius2": {"field": "r0"},
  "color": {"field": "b", "type": "nominal", "scale": {"domain": ["(0,5]", "(5,10]", "(10,20]", "(20,30]", "(30,40]"], "range": ["#ffffb2", "#fecc5c", "#fd8d3c", "#f03b20", "#bd0026"]},
   "legend": {"orient": "none", "legendX": 451, "legendY": 584, "title": "Wind Speed", "titleFontSize": 44, "titleFontWeight": "normal", "titleFont": "Liberation Sans", "titleColor": "#000000", "titleLimit": 600, "labelFontSize": 36, "labelFont": "Liberation Sans", "labelColor": "#000000", "symbolType": "square", "symbolSize": 4356, "symbolStrokeWidth": 0, "symbolOpacity": 1, "rowPadding": 6, "labelOffset": 26, "titlePadding": 22, "labelLimit": 400, "padding": 0}}}},
{"data": {"name": "compass"}, "mark": {"type": "text", "color": "#ffffff", "fontSize": 41, "font": "Liberation Sans", "align": "center", "baseline": "middle"},
 "encoding": {"theta": {"field": "deg", "type": "quantitative", "scale": {"type": "linear", "domain": [0, 360], "range": [0, 6.283185307179586], "nice": false, "zero": false}, "stack": null},
  "radius": {"datum": 77.26, "type": "quantitative", "scale": {"type": "linear", "domain": [0, 68.9], "range": [0, 151.6], "nice": false, "zero": true}}, "text": {"field": "lab", "type": "nominal"}}}
]},
{"width": 379, "height": 379,
"layer": [
{"data": {"name": "ringsE"}, "mark": {"type": "arc", "theta": 0, "theta2": 6.283185307179586, "filled": false, "stroke": "#4f4f4f", "strokeWidth": 4},
 "encoding": {"radius": {"field": "r", "type": "quantitative", "scale": {"type": "linear", "domain": [0, 68.9], "range": [0, 151.6], "nice": false, "zero": true}, "stack": null}}},
{"data": {"values": [{}]}, "mark": {"type": "rule", "color": "#4f4f4f", "strokeWidth": 4},
 "encoding": {"x": {"datum": 0, "type": "quantitative", "scale": {"domain": [-86.13, 86.13], "nice": false, "zero": false}, "axis": null},
  "y": {"datum": -77.51, "type": "quantitative", "scale": {"domain": [-86.13, 86.13], "nice": false, "zero": false}, "axis": {"values": [0, 20, 40, 60], "labelExpr": "datum.value + '%'", "grid": false, "domain": false, "ticks": false, "labelPadding": 21, "labelFontSize": 36, "labelFont": "Liberation Sans", "labelColor": "#4d4d4d", "title": null, "labelOverlap": false, "labelFlush": false}},
  "y2": {"datum": 77.51}}},
{"data": {"values": [{}]}, "mark": {"type": "rule", "color": "#4f4f4f", "strokeWidth": 4},
 "encoding": {"x": {"datum": -77.51, "type": "quantitative", "scale": {"domain": [-86.13, 86.13], "nice": false, "zero": false}, "axis": null}, "x2": {"datum": 77.51},
  "y": {"datum": 0, "type": "quantitative", "scale": {"domain": [-86.13, 86.13], "nice": false, "zero": false}, "axis": {"values": [0, 20, 40, 60], "labelExpr": "datum.value + '%'", "grid": false, "domain": false, "ticks": false, "labelPadding": 21, "labelFontSize": 36, "labelFont": "Liberation Sans", "labelColor": "#4d4d4d", "title": null, "labelOverlap": false, "labelFlush": false}}}},
{"data": {"name": "w"},
 "transform": [{"filter": "datum.p == 'E4'"}, {"calculate": "indexof(['(40,46.4]','(30,40]','(20,30]','(10,20]','(5,10]','(0,5]'], datum.b)", "as": "o"}, {"stack": "v", "groupby": ["d"], "sort": [{"field": "o", "order": "ascending"}], "as": ["r0", "r1"]}, {"calculate": "datum.d - 13.5", "as": "t0"}, {"calculate": "datum.d + 13.5", "as": "t1"}],
 "mark": {"type": "arc", "stroke": "#555555", "strokeWidth": 0.5},
 "encoding": {"theta": {"field": "t0", "type": "quantitative", "scale": {"type": "linear", "domain": [0, 360], "range": [0, 6.283185307179586], "nice": false, "zero": false}, "stack": null}, "theta2": {"field": "t1"},
  "radius": {"field": "r1", "type": "quantitative", "scale": {"type": "linear", "domain": [0, 68.9], "range": [0, 151.6], "nice": false, "zero": true}, "stack": null}, "radius2": {"field": "r0"},
  "color": {"field": "b", "type": "nominal", "scale": {"domain": ["(0,5]", "(5,10]", "(10,20]", "(20,30]", "(30,40]"], "range": ["#ffffb2", "#fecc5c", "#fd8d3c", "#f03b20", "#bd0026"]},
   "legend": {"orient": "none", "legendX": 451, "legendY": 584, "title": "Wind Speed", "titleFontSize": 44, "titleFontWeight": "normal", "titleFont": "Liberation Sans", "titleColor": "#000000", "titleLimit": 600, "labelFontSize": 36, "labelFont": "Liberation Sans", "labelColor": "#000000", "symbolType": "square", "symbolSize": 4356, "symbolStrokeWidth": 0, "symbolOpacity": 1, "rowPadding": 6, "labelOffset": 26, "titlePadding": 22, "labelLimit": 400, "padding": 0}}}},
{"data": {"name": "compass"}, "mark": {"type": "text", "color": "#ffffff", "fontSize": 41, "font": "Liberation Sans", "align": "center", "baseline": "middle"},
 "encoding": {"theta": {"field": "deg", "type": "quantitative", "scale": {"type": "linear", "domain": [0, 360], "range": [0, 6.283185307179586], "nice": false, "zero": false}, "stack": null},
  "radius": {"datum": 77.26, "type": "quantitative", "scale": {"type": "linear", "domain": [0, 68.9], "range": [0, 151.6], "nice": false, "zero": true}}, "text": {"field": "lab", "type": "nominal"}}}
]}
]
}
],
"spacing": 114,
"resolve": {"scale": {"color": "independent", "radius": "independent", "theta": "independent", "x": "independent", "y": "independent"}}
}
